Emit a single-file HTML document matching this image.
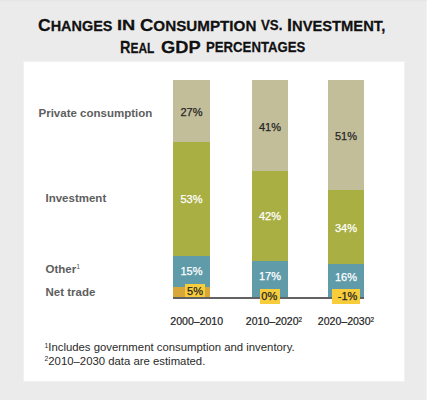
<!DOCTYPE html>
<html><head><meta charset="utf-8">
<style>
html,body{margin:0;padding:0;}
body{width:427px;height:400px;background:#ebebeb;position:relative;overflow:hidden;font-family:"Liberation Sans",sans-serif;}
.a{position:absolute;white-space:nowrap;}
.tw{position:absolute;white-space:nowrap;-webkit-text-stroke:0.3px #111;text-shadow:0 0 1.2px #fff,0 0 1.2px #fff;font-family:"Liberation Sans",sans-serif;font-weight:bold;color:#111;line-height:24px;transform-origin:0 0;}
.tb{font-size:17.3px;}
.ts{font-size:14.2px;}
.panel{position:absolute;left:24px;top:62px;width:380px;height:319px;background:#fff;box-shadow:0 0 0 1px #f1f1f1;}
.seg{position:absolute;}
.tan{background:#c3be9a;}
.grn{background:#a9af42;}
.blu{background:#5f9ba9;}
.org{background:#d9a63a;}
.yel{background:#f8cd3c;}
.lab{position:absolute;font-weight:bold;font-size:11.5px;color:#5e5e5e;line-height:12px;}
.pct{position:absolute;font-size:11px;line-height:12px;text-align:center;-webkit-text-stroke:0.25px currentColor;}
.dk{color:#262626;}
.wt{color:#fff;}
.xl{position:absolute;-webkit-text-stroke:0.2px currentColor;font-size:10.55px;line-height:12px;color:#1e1e1e;}
.fn{position:absolute;font-size:11.35px;line-height:13px;color:#2a2a2a;left:44.5px;}
sup{font-size:0.55em;vertical-align:0;position:relative;top:-0.6em;}
.lab sup{font-weight:normal;font-size:0.6em;}
.xl sup{top:-0.55em;font-size:0.6em;}
.fn sup{top:-0.47em;font-size:0.6em;}
</style></head><body>
<div class="tw" style="left:37.98px;top:13.0px;transform:scaleX(1.017);"><span class="tb">C</span><span class="ts">HANGES</span></div>
<div class="tw" style="left:117.02px;top:13.0px;transform:scaleX(1.283);"><span class="ts">IN</span></div>
<div class="tw" style="left:140.13px;top:13.0px;transform:scaleX(1.071);"><span class="tb">C</span><span class="ts">ONSUMPTION</span></div>
<div class="tw" style="left:260.6px;top:13.0px;transform:scaleX(0.936);"><span class="ts">VS.</span></div>
<div class="tw" style="left:287.26px;top:13.0px;transform:scaleX(1.038);"><span class="tb">I</span><span class="ts">NVESTMENT,</span></div>
<div class="tw" style="left:120.06px;top:35.0px;transform:scaleX(0.838);"><span class="tb">R</span><span class="ts">EAL</span></div>
<div class="tw" style="left:160.84px;top:35.0px;transform:scaleX(1.058);"><span class="tb">GDP</span></div>
<div class="tw" style="left:206.07px;top:35.0px;transform:scaleX(0.929);"><span class="ts">PERCENTAGES</span></div>
<div class="panel"></div>
<div class="seg" style="left:426px;top:0;width:1px;height:400px;background:#f2f2f2;"></div>
<div class="seg" style="left:0;top:0;width:427px;height:1px;background:#e6e6e6;"></div>

<!-- bar 1 -->
<div class="seg tan" style="left:173px;top:80px;width:37px;height:62px;"></div>
<div class="seg grn" style="left:173px;top:142px;width:37px;height:114px;"></div>
<div class="seg blu" style="left:173px;top:256px;width:37px;height:31px;"></div>
<div class="seg org" style="left:173px;top:287px;width:37px;height:10px;"></div>
<!-- bar 2 -->
<div class="seg tan" style="left:252px;top:80px;width:36px;height:91px;"></div>
<div class="seg grn" style="left:252px;top:171px;width:36px;height:90px;"></div>
<div class="seg blu" style="left:252px;top:261px;width:36px;height:36px;"></div>
<!-- bar 3 -->
<div class="seg tan" style="left:328px;top:80px;width:36px;height:110px;"></div>
<div class="seg grn" style="left:328px;top:190px;width:36px;height:74px;"></div>
<div class="seg blu" style="left:328px;top:264px;width:36px;height:33px;"></div>

<!-- baseline -->
<div class="seg" style="left:173px;top:297px;width:191px;height:2px;background:#626262;"></div>

<!-- yellow boxes -->
<div class="seg yel" style="left:185px;top:284px;width:20px;height:13px;"></div>
<div class="seg yel" style="left:260px;top:289px;width:20px;height:14.5px;"></div>
<div class="seg yel" style="left:332px;top:289px;width:28px;height:14.5px;"></div>

<!-- row labels -->
<div class="lab" style="left:38.5px;top:107px;">Private consumption</div>
<div class="lab" style="left:45.5px;top:191.5px;">Investment</div>
<div class="lab" style="left:45.5px;top:263px;">Other<sup>1</sup></div>
<div class="lab" style="left:45.5px;top:285.5px;">Net trade</div>

<!-- percentages -->
<div class="pct dk" style="left:173px;width:37px;top:106px;">27%</div>
<div class="pct wt" style="left:173px;width:37px;top:192.6px;">53%</div>
<div class="pct wt" style="left:173px;width:37px;top:265.3px;">15%</div>
<div class="pct dk" style="left:185px;width:20px;top:284.8px;">5%</div>

<div class="pct dk" style="left:252px;width:36px;top:120.7px;">41%</div>
<div class="pct wt" style="left:252px;width:36px;top:209.9px;">42%</div>
<div class="pct wt" style="left:252px;width:36px;top:269.9px;">17%</div>
<div class="pct dk" style="left:259.3px;width:20px;top:290px;">0%</div>

<div class="pct dk" style="left:328px;width:36px;top:130.2px;">51%</div>
<div class="pct wt" style="left:328px;width:36px;top:221.9px;">34%</div>
<div class="pct wt" style="left:328px;width:36px;top:270.6px;">16%</div>
<div class="pct dk" style="left:333.6px;width:28px;top:290px;">-1%</div>

<!-- x labels -->
<div class="xl" style="left:170.3px;top:315px;">2000–2010</div>
<div class="xl" style="left:245.8px;top:315px;">2010–2020<sup>2</sup></div>
<div class="xl" style="left:317.8px;top:315px;">2020–2030<sup>2</sup></div>

<!-- footnotes -->
<div class="fn" style="top:340.8px;"><sup>1</sup>Includes government consumption and inventory.</div>
<div class="fn" style="top:354.6px;"><sup>2</sup>2010–2030 data are estimated.</div>
</body></html>
